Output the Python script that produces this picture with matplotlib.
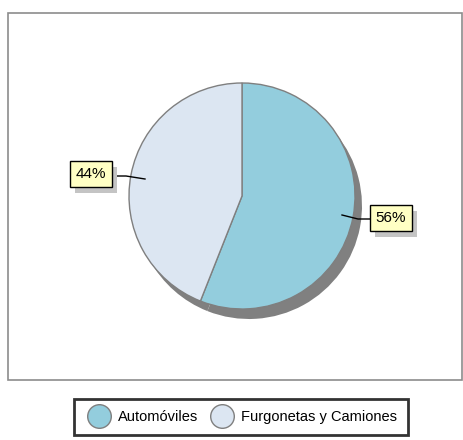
import matplotlib.pyplot as plt
import matplotlib.patheffects as pe
from matplotlib.patches import Rectangle
from matplotlib.lines import Line2D

plt.rcParams['font.family'] = ['Liberation Sans', 'DejaVu Sans']

categories = ["Automóviles", "Furgonetas y Camiones"]
values = [56, 44]
colors = ["#93CDDD", "#DCE6F2"]

W, H = 463, 440
fig = plt.figure(figsize=(W / 100, H / 100), dpi=100)
ax = fig.add_axes([0, 0, 1, 1])

# pie geometry in pixel units (y up)
cx, cy, r = 242, H - 196, 113

# drop shadow
ax.pie(values, colors=["#808080"] * 2, startangle=90, counterclock=False,
       center=(cx + 7, cy - 10), radius=r, wedgeprops=dict(linewidth=0))
wedges, _ = ax.pie(values, colors=colors, startangle=90, counterclock=False,
                   center=(cx, cy), radius=r,
                   wedgeprops=dict(edgecolor="#7f7f7f", linewidth=1))
ax.set_xlim(0, W)
ax.set_ylim(0, H)
ax.set_aspect('equal')
ax.axis('off')

# plot area border
ax.add_patch(Rectangle((8, H - 380), 454, 367, fill=False, ec="#8c8c8c", lw=1.2))

total = sum(values)
pcts = [f"{round(v * 100 / total)}%" for v in values]

# label boxes: (box centre, leader line points)
label_pos = [
    ((391, H - 218), [(342, H - 215), (358, H - 219), (373, H - 219)]),
    ((91, H - 174), [(145, H - 179), (126, H - 176), (110, H - 176)]),
]
for txt, (pos, line) in zip(pcts, label_pos):
    xs, ys = zip(*line)
    ax.plot(xs, ys, color="black", lw=1)
    t = ax.text(pos[0], pos[1], txt, ha='center', va='center', fontsize=11,
                bbox=dict(boxstyle='square,pad=0.38', fc="#FFFFC4", ec="black", lw=1))
    # offset is in points (1pt = 1.39px here)
    t.get_bbox_patch().set_path_effects([
        pe.SimplePatchShadow(offset=(3.6, -4.3), shadow_rgbFace="#c4c4c4", alpha=1),
        pe.Normal()])

handles = [Line2D([], [], marker='o', ls='none', markersize=17, markerfacecolor=c,
                  markeredgecolor="#7f7f7f") for c in colors]
leg = fig.legend(handles, categories, loc='center', bbox_to_anchor=(0.52, 0.052),
                 ncol=2, frameon=True, fancybox=False, fontsize=10.5,
                 handletextpad=0.3, columnspacing=0.6, borderpad=0.75)
leg.get_frame().set_edgecolor("black")
leg.get_frame().set_linewidth(2)

fig.savefig("out.png", dpi=100)
